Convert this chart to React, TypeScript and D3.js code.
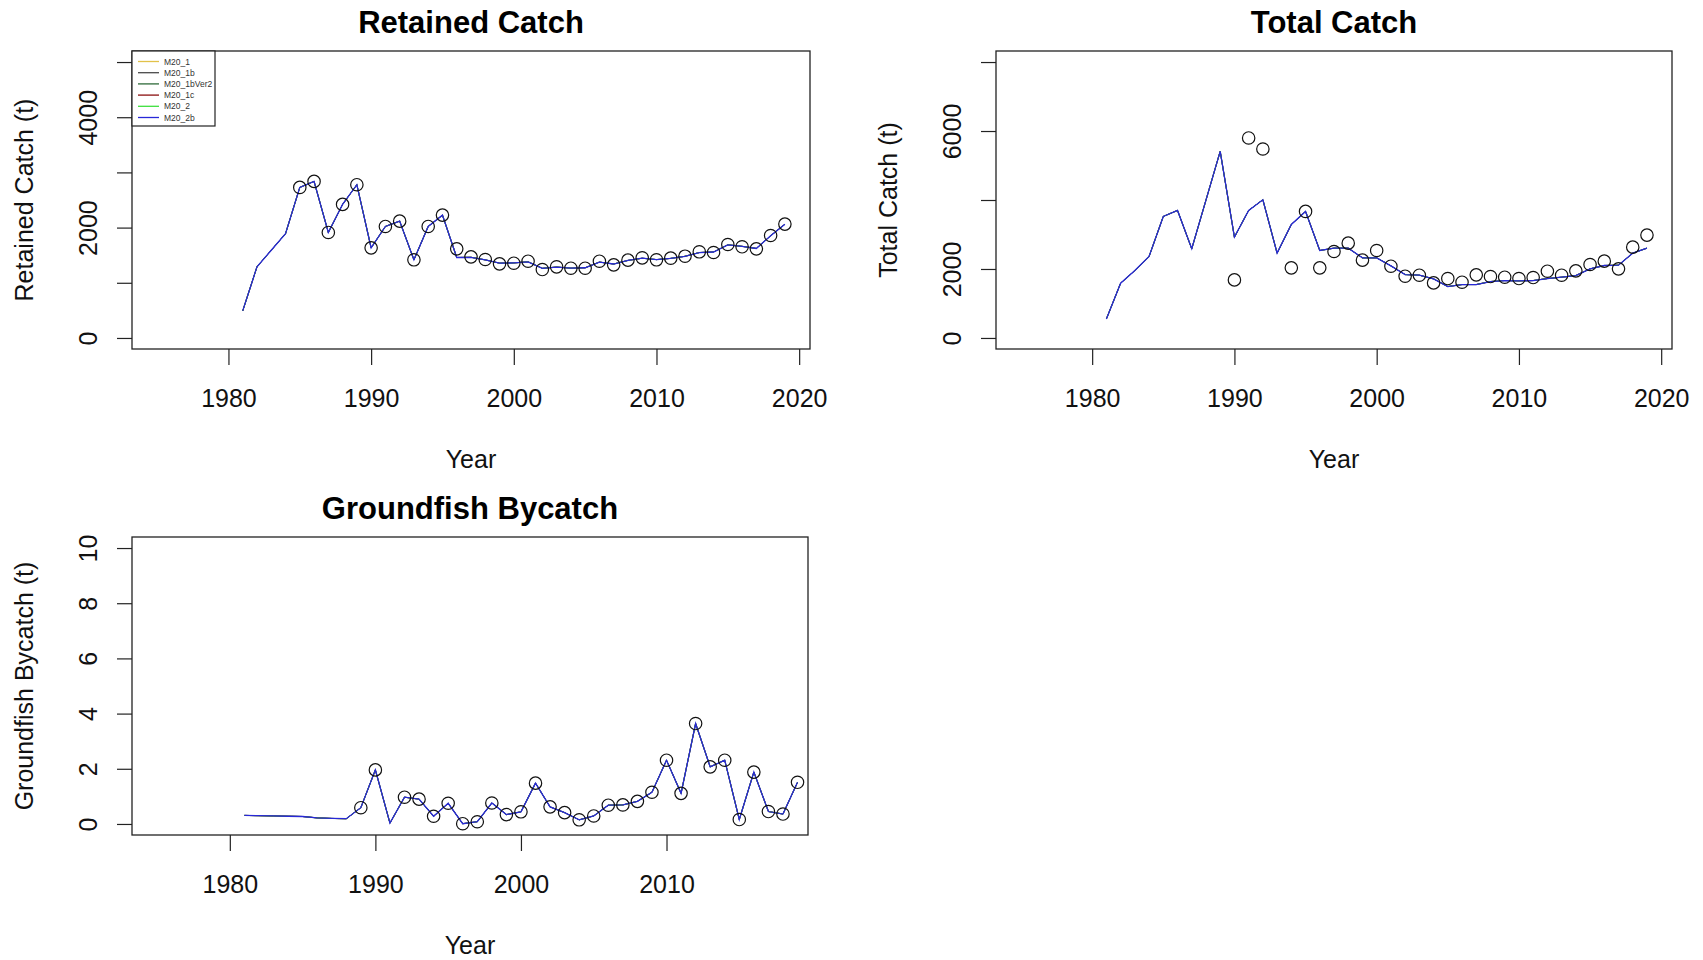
import React, {useEffect, useRef} from 'react';
import * as d3 from 'd3';

// years of the assessment
const years = [
  1981, 1982, 1983, 1984, 1985, 1986, 1987, 1988, 1989, 1990,
  1991, 1992, 1993, 1994, 1995, 1996, 1997, 1998, 1999, 2000,
  2001, 2002, 2003, 2004, 2005, 2006, 2007, 2008, 2009, 2010,
  2011, 2012, 2013, 2014, 2015, 2016, 2017, 2018, 2019
];

const models = ['M20_1', 'M20_1b', 'M20_1bVer2', 'M20_1c', 'M20_2', 'M20_2b'];
const modelColors = ['#e2c24a', '#4a4a4a', '#2f6b3a', '#8b1010', '#3ee03e', '#2828d8'];

// retained catch (t)
const retainedObs = [
  null, null, null, null, 2728, 2837, 1912, 2420, 2777, 1633,
  2021, 2117, 1416, 2021, 2226, 1615, 1470, 1422, 1343, 1355,
  1391, 1240, 1289, 1264, 1264, 1391, 1325, 1410, 1452, 1416,
  1446, 1482, 1561, 1549, 1694, 1652, 1615, 1857, 2063
];
const retainedPred = [
  490, 1290, 1590, 1890, 2728, 2837, 1912, 2420, 2777, 1633,
  2021, 2117, 1416, 2021, 2226, 1458, 1462, 1415, 1355, 1360,
  1380, 1262, 1285, 1265, 1272, 1375, 1340, 1405, 1445, 1420,
  1442, 1480, 1548, 1558, 1688, 1660, 1622, 1852, 2060
];

// total catch (t)
const totalObs = [
  null, null, null, null, null, null, null, null, null, 1684,
  5799, 5479, null, 2033, 3669, 2033, 2507, 2749, 2256, 2536,
  2081, 1791, 1820, 1597, 1723, 1617, 1830, 1781, 1762, 1723,
  1752, 1936, 1820, 1946, 2130, 2227, 2004, 2633, 2982
];
const totalPred = [
  552, 1588, 1955, 2362, 3524, 3698, 2585, 3998, 5411, 2924,
  3698, 4008, 2459, 3291, 3669, 2536, 2604, 2604, 2323, 2323,
  2091, 1839, 1820, 1713, 1491, 1549, 1549, 1636, 1665, 1655,
  1665, 1723, 1762, 1810, 2004, 2101, 2110, 2459, 2604
];

// groundfish bycatch (t)
const bycatchObs = [
  null, null, null, null, null, null, null, null, 0.59, 1.96,
  null, 0.97, 0.90, 0.28, 0.75, 0.01, 0.08, 0.76, 0.34, 0.44,
  1.48, 0.62, 0.41, 0.15, 0.29, 0.68, 0.69, 0.82, 1.15, 2.31,
  1.11, 3.64, 2.07, 2.31, 0.16, 1.88, 0.45, 0.36, 1.51
];
const bycatchPred = [
  0.31, 0.30, 0.29, 0.28, 0.27, 0.22, 0.20, 0.19, 0.59, 1.96,
  0.03, 0.97, 0.90, 0.28, 0.75, 0.01, 0.08, 0.76, 0.34, 0.44,
  1.48, 0.62, 0.41, 0.15, 0.29, 0.68, 0.69, 0.82, 1.15, 2.31,
  1.11, 3.64, 2.07, 2.31, 0.16, 1.88, 0.45, 0.36, 1.51
];

const yearTicks = [1980, 1990, 2000, 2010, 2020];
const yearTicksBycatch = [1980, 1990, 2000, 2010];
const retainedTicks = [0, 1000, 2000, 3000, 4000, 5000];
const retainedTickLabels = [0, 2000, 4000];
const totalTicks = [0, 2000, 4000, 6000, 8000];
const totalTickLabels = [0, 2000, 6000];
const bycatchTicks = [0, 2, 4, 6, 8, 10];

const FONT = '"Liberation Sans", Arial, Helvetica, sans-serif';

interface Panel {
  title: string;
  ylab: string;
  box: { l: number; r: number; t: number; b: number };
  xDomain: [number, number];
  yDomain: [number, number];
  xTicks: number[];
  yTicks: number[];
  yLabels: number[];
  obs: (number | null)[];
  pred: number[];
  legend: boolean;
}

const panels: Panel[] = [
  {
    title: 'Retained Catch', ylab: 'Retained Catch (t)',
    box: {l: 132, r: 810, t: 51, b: 349},
    xDomain: [1973.24, 2020.76], yDomain: [-200, 5200],
    xTicks: yearTicks, yTicks: retainedTicks, yLabels: retainedTickLabels,
    obs: retainedObs, pred: retainedPred, legend: true
  },
  {
    title: 'Total Catch', ylab: 'Total Catch (t)',
    box: {l: 996, r: 1672, t: 51, b: 349},
    xDomain: [1973.24, 2020.76], yDomain: [-320, 8320],
    xTicks: yearTicks, yTicks: totalTicks, yLabels: totalTickLabels,
    obs: totalObs, pred: totalPred, legend: false
  },
  {
    title: 'Groundfish Bycatch', ylab: 'Groundfish Bycatch (t)',
    box: {l: 132, r: 808, t: 537, b: 835},
    xDomain: [1973.28, 2019.72], yDomain: [-0.4, 10.4],
    xTicks: yearTicksBycatch, yTicks: bycatchTicks, yLabels: bycatchTicks,
    obs: bycatchObs, pred: bycatchPred, legend: false
  }
];

export default function App() {
  const ref = useRef<SVGSVGElement>(null);

  useEffect(() => {
    const svg = d3.select(ref.current);
    svg.selectAll('*').remove();

    svg.append('rect').attr('width', 1703).attr('height', 960).attr('fill', '#fff');

    panels.forEach(p => {
      const {l, r, t, b} = p.box;
      const x = d3.scaleLinear().domain(p.xDomain).range([l, r]);
      const y = d3.scaleLinear().domain(p.yDomain).range([b, t]);
      const g = svg.append('g');

      // title
      g.append('text')
          .attr('x', (l + r) / 2)
          .attr('y', t - 18)
          .attr('text-anchor', 'middle')
          .style('font-family', FONT)
          .style('font-size', '31px')
          .style('font-weight', 'bold')
          .attr('fill', '#000')
          .text(p.title);

      // model lines, blue one drawn last so it sits on top
      const line = d3.line<number>()
          .x((d, i) => x(years[i]))
          .y(d => y(d));
      models.forEach((m, k) => {
        g.append('path')
            .datum(p.pred)
            .attr('d', line)
            .attr('fill', 'none')
            .attr('stroke', modelColors[k])
            .attr('stroke-width', k === models.length - 1 ? 1.3 : 0.9);
      });

      // observed points
      const pts = years.map((yr, i) => ({yr, v: p.obs[i]})).filter(d => d.v !== null);
      g.selectAll('.obs')
          .data(pts)
          .enter().append('circle')
          .attr('cx', d => x(d.yr))
          .attr('cy', d => y(d.v as number))
          .attr('r', 6.2)
          .attr('fill', 'none')
          .attr('stroke', '#111')
          .attr('stroke-width', 1.2);

      // box
      g.append('rect')
          .attr('x', l).attr('y', t)
          .attr('width', r - l).attr('height', b - t)
          .attr('fill', 'none')
          .attr('stroke', '#222')
          .attr('stroke-width', 1.3);

      // x axis
      const xAxis = d3.axisBottom(x)
          .tickValues(p.xTicks)
          .tickFormat(d3.format('d'))
          .tickSize(16)
          .tickPadding(24);
      const gx = g.append('g').attr('transform', `translate(0,${b})`).call(xAxis);
      gx.select('.domain').remove();
      gx.selectAll('line').attr('stroke', '#222').attr('stroke-width', 1.2);
      gx.selectAll('text')
          .style('font-family', FONT)
          .style('font-size', '25px')
          .attr('fill', '#111');

      // y axis
      const yAxis = d3.axisLeft(y)
          .tickValues(p.yTicks)
          .tickFormat(d => (p.yLabels.includes(d as number) ? String(d) : ''))
          .tickSize(15);
      const gy = g.append('g').attr('transform', `translate(${l},0)`).call(yAxis);
      gy.select('.domain').remove();
      gy.selectAll('line').attr('stroke', '#222').attr('stroke-width', 1.2);
      gy.selectAll('text')
          .attr('x', 0)
          .attr('dy', 0)
          .attr('transform', 'translate(-35,0) rotate(-90)')
          .attr('text-anchor', 'middle')
          .style('font-family', FONT)
          .style('font-size', '25px')
          .attr('fill', '#111');

      // axis titles
      g.append('text')
          .attr('x', (l + r) / 2)
          .attr('y', b + 119)
          .attr('text-anchor', 'middle')
          .style('font-family', FONT)
          .style('font-size', '25px')
          .attr('fill', '#111')
          .text('Year');

      g.append('text')
          .attr('transform', `translate(${l - 99},${(t + b) / 2}) rotate(-90)`)
          .attr('text-anchor', 'middle')
          .style('font-family', FONT)
          .style('font-size', '25px')
          .attr('fill', '#111')
          .text(p.ylab);

      // legend
      if (p.legend) {
        const lg = g.append('g');
        lg.append('rect')
            .attr('x', l).attr('y', t)
            .attr('width', 83).attr('height', 75)
            .attr('fill', '#fff')
            .attr('stroke', '#222')
            .attr('stroke-width', 1.2);
        models.forEach((m, k) => {
          const yy = t + 10.5 + k * 11.2;
          lg.append('line')
              .attr('x1', l + 6).attr('x2', l + 27)
              .attr('y1', yy).attr('y2', yy)
              .attr('stroke', modelColors[k])
              .attr('stroke-width', 1.3);
          lg.append('text')
              .attr('x', l + 32)
              .attr('y', yy + 3)
              .style('font-family', FONT)
              .style('font-size', '8.5px')
              .attr('fill', '#333')
              .text(m);
        });
      }
    });
  }, []);

  return (
    <svg ref={ref} width={1703} height={960}
         style={{position: 'absolute', left: 0, top: 0, display: 'block'}} />
  );
}
